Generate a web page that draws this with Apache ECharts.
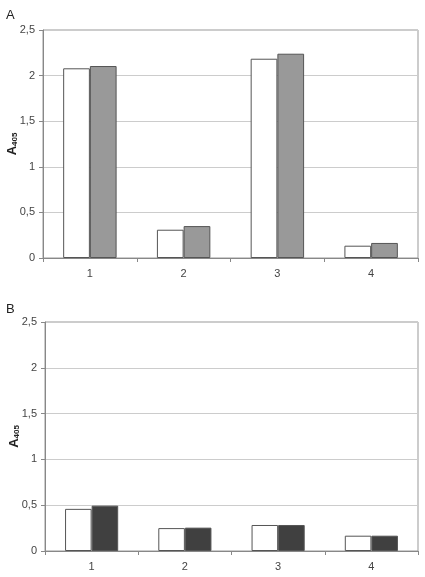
<!DOCTYPE html>
<html>
<head>
<meta charset="utf-8">
<script src="https://cdn.jsdelivr.net/npm/echarts@6/dist/echarts.min.js"></script>
<style>html,body{margin:0;padding:0;background:#fff}#c{width:425px;height:577px}</style>
</head>
<body>
<div id="c"></div>
<script>
var categories = ['1', '2', '3', '4'];
var yTicks = [0, 0.5, 1, 1.5, 2, 2.5];
var panelLabels = ['A', 'B'];
var axisName = 'A405';
var aWhite = [2.08, 0.31, 2.185, 0.135];
var aGray = [2.105, 0.35, 2.24, 0.165];
var bWhite = [0.46, 0.25, 0.284, 0.167];
var bDark = [0.495, 0.255, 0.284, 0.167];

var chart = echarts.init(document.getElementById('c'), null, {renderer: 'canvas'});
var font = 'Liberation Sans, Arial, sans-serif';
function fmt(v) { return String(v).replace('.', ','); }
function xAx(i) {
  return {
    type: 'category', gridIndex: i, data: categories,
    axisLine: {lineStyle: {color: '#888', width: 1}},
    axisTick: {show: true, length: 4, lineStyle: {color: '#888'}},
    axisLabel: {color: '#444', fontSize: 11, fontFamily: font, margin: 10}
  };
}
function yAx(i) {
  return {
    type: 'value', gridIndex: i, min: 0, max: 2.5, interval: 0.5,
    name: '{a|A}{s|' + axisName.slice(1) + '}',
    nameLocation: 'middle', nameGap: 24, nameRotate: 90, nameMoveOverlap: false,
    nameTextStyle: {
      rich: {
        a: {fontSize: 13, fontWeight: 'bold', color: '#222', fontFamily: font},
        s: {fontSize: 8, fontWeight: 'bold', color: '#222', fontFamily: font, padding: [5, 0, 0, 0]}
      }
    },
    axisLine: {show: true, lineStyle: {color: '#888', width: 1}},
    axisTick: {show: true, length: 4, lineStyle: {color: '#888'}},
    axisLabel: {color: '#444', fontSize: 11, fontFamily: font, margin: 8, formatter: fmt},
    splitLine: {show: true, lineStyle: {color: '#ccc', width: 1}}
  };
}
function bar(i, data, color) {
  return {
    type: 'bar', xAxisIndex: i, yAxisIndex: i, data: data,
    barGap: '0%', barCategoryGap: '43%',
    itemStyle: {color: color, borderColor: '#555', borderWidth: 1},
    silent: true
  };
}
chart.setOption({
  animation: false,
  backgroundColor: '#fff',
  title: [
    {text: panelLabels[0], left: 1, top: 4, textStyle: {fontSize: 13, fontWeight: 'normal', color: '#222', fontFamily: font}},
    {text: panelLabels[1], left: 1, top: 298, textStyle: {fontSize: 13, fontWeight: 'normal', color: '#222', fontFamily: font}}
  ],
  grid: [
    {left: 43, right: 7, top: 30, height: 228, containLabel: false, outerBoundsMode: 'none', show: true, borderColor: '#999', borderWidth: 1, backgroundColor: 'transparent'},
    {left: 45, right: 7, top: 322, height: 229, containLabel: false, outerBoundsMode: 'none', show: true, borderColor: '#999', borderWidth: 1, backgroundColor: 'transparent'}
  ],
  xAxis: [xAx(0), xAx(1)],
  yAxis: [yAx(0), yAx(1)],
  series: [
    bar(0, aWhite, '#fff'),
    bar(0, aGray, '#999'),
    bar(1, bWhite, '#fff'),
    bar(1, bDark, '#404040')
  ]
});
</script>
</body>
</html>
